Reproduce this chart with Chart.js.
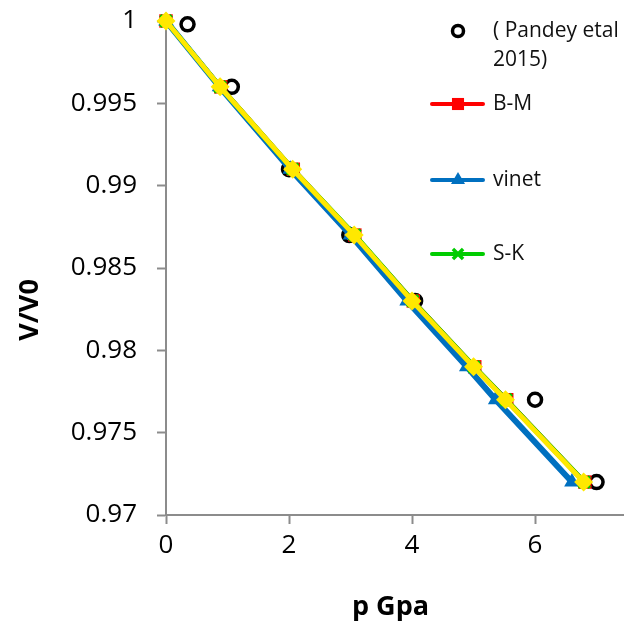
<!DOCTYPE html>
<html>
<head>
<meta charset="utf-8">
<script src="https://cdn.jsdelivr.net/npm/chart.js@4/dist/chart.umd.min.js"></script>
<style>
  html, body { margin: 0; padding: 0; background: #ffffff; }
  canvas { display: block; }
</style>
</head>
<body>
<canvas id="eos" width="640" height="627"></canvas>
<script>
// Relative volume V/V0 shared by the equation-of-state curves
const volumeRatio = [1.000, 0.996, 0.991, 0.987, 0.983, 0.979, 0.977, 0.972];

// Pressure (GPa) for each equation of state
const pressureBM    = [0, 0.89, 2.07, 3.07, 4.02, 5.02, 5.54, 6.81];
const pressureVinet = [0, 0.87, 2.02, 3.00, 3.92, 4.89, 5.36, 6.60];
const pressureSK    = [0, 0.88, 2.06, 3.07, 4.01, 5.01, 5.53, 6.80];
const pressureCalc  = [0, 0.88, 2.06, 3.06, 4.00, 5.00, 5.52, 6.79];

// Reference points (Pandey et al. 2015)
const pandeyPressure = [0.35, 1.07, 2.00, 2.98, 4.05, 6.00, 7.00];
const pandeyVolume   = [0.9998, 0.996, 0.991, 0.987, 0.983, 0.977, 0.972];

// Axis ticks
const xTicks = [0, 2, 4, 6];
const yTicks = [0.97, 0.975, 0.98, 0.985, 0.99, 0.995, 1];

const seriesLabels = ['( Pandey etal\n2015)', 'B-M', 'vinet', 'S-K', 'calc'];

const toPoints = (xs, ys) => xs.map((x, i) => ({ x: x, y: ys[i] }));

const FONT = "'Open Sans', 'DejaVu Sans', sans-serif";

const datasets = [
  {
    label: seriesLabels[0],
    data: toPoints(pandeyPressure, pandeyVolume),
    showLine: false,
    clip: false,
    pointStyle: 'circle',
    pointRadius: 6.5,
    pointBorderWidth: 3.5,
    pointBorderColor: '#000000',
    pointBackgroundColor: 'rgba(255,255,255,0)',
    order: 4
  },
  {
    label: seriesLabels[1],
    data: toPoints(pressureBM, volumeRatio),
    showLine: true,
    clip: false,
    borderColor: '#ff0000',
    borderWidth: 4,
    pointStyle: 'rect',
    pointRadius: 9.5,
    pointBorderWidth: 0,
    pointBackgroundColor: '#ff0000',
    order: 3
  },
  {
    label: seriesLabels[2],
    data: toPoints(pressureVinet, volumeRatio),
    showLine: true,
    clip: false,
    borderColor: '#0070c0',
    borderWidth: 6,
    pointStyle: 'triangle',
    pointRadius: 9,
    pointBorderWidth: 0,
    pointBackgroundColor: '#0070c0',
    order: 2
  },
  {
    label: seriesLabels[3],
    data: toPoints(pressureSK, volumeRatio),
    showLine: true,
    clip: false,
    borderColor: '#00cc00',
    borderWidth: 5,
    pointStyle: 'crossRot',
    pointRadius: 8,
    pointBorderWidth: 3.5,
    pointBorderColor: '#00cc00',
    pointBackgroundColor: '#00cc00',
    order: 1
  },
  {
    label: seriesLabels[4],
    data: toPoints(pressureCalc, volumeRatio),
    showLine: true,
    clip: false,
    borderColor: '#ffe800',
    borderWidth: 5,
    pointStyle: 'rectRot',
    pointRadius: 9.5,
    pointBorderWidth: 0,
    pointBackgroundColor: '#ffe800',
    order: 0
  }
];

// Legend entries drawn over the right side of the plot
const legendRows = [
  { index: 0, y: 31 },
  { index: 1, y: 104 },
  { index: 2, y: 180 },
  { index: 3, y: 254 }
];

function drawMarker(ctx, ds, x, y) {
  ctx.save();
  ctx.fillStyle = ds.pointBackgroundColor;
  ctx.strokeStyle = ds.pointBorderColor || ds.pointBackgroundColor;
  ctx.lineWidth = ds.pointBorderWidth;
  Chart.helpers.drawPoint(ctx, {
    pointStyle: ds.pointStyle,
    radius: ds.pointRadius,
    borderWidth: ds.pointBorderWidth,
    rotation: 0
  }, x, y);
  ctx.restore();
}

const overlayPlugin = {
  id: 'overlay',
  afterDraw(chart) {
    const ctx = chart.ctx;
    const area = chart.chartArea;
    ctx.save();

    // Legend
    const symX = 458, lineL = 432, lineR = 483, textX = 493;
    ctx.font = '21px ' + FONT;
    ctx.fillStyle = '#111111';
    ctx.textAlign = 'left';
    ctx.textBaseline = 'middle';
    legendRows.forEach(row => {
      const ds = chart.data.datasets[row.index];
      if (ds.showLine) {
        ctx.save();
        ctx.strokeStyle = ds.borderColor;
        ctx.lineWidth = 4;
        ctx.lineCap = 'round';
        ctx.beginPath();
        ctx.moveTo(lineL, row.y);
        ctx.lineTo(lineR, row.y);
        ctx.stroke();
        ctx.restore();
      }
      const legendDs = Object.assign({}, ds, {
        pointRadius: ds.pointStyle === 'circle' ? 5.5 : ds.pointRadius * 0.9
      });
      drawMarker(ctx, legendDs, symX, row.y);
      const lines = ds.label.split('\n');
      lines.forEach((t, i) => ctx.fillText(t, textX, row.y + i * 29));
    });

    // Axis titles
    ctx.font = 'bold 27px ' + FONT;
    ctx.fillStyle = '#000000';
    ctx.textAlign = 'center';
    ctx.textBaseline = 'middle';
    ctx.fillText('p Gpa', (area.left + area.right) / 2 - 4, 607);

    ctx.save();
    ctx.translate(30, 310);
    ctx.rotate(-Math.PI / 2);
    ctx.fillText('V/V0', 0, 0);
    ctx.restore();

    ctx.restore();
  }
};

const axisColor = '#8c8c8c';

new Chart(document.getElementById('eos'), {
  type: 'scatter',
  data: { datasets: datasets },
  options: {
    responsive: false,
    animation: false,
    devicePixelRatio: 1,
    layout: { padding: { top: 21, right: 17, left: 0, bottom: 0 } },
    plugins: {
      legend: { display: false },
      tooltip: { enabled: false }
    },
    elements: { line: { tension: 0 } },
    scales: {
      x: {
        type: 'linear',
        min: 0,
        max: 7.43,
        afterBuildTicks: s => { s.ticks = xTicks.map(v => ({ value: v })); },
        afterFit: s => { s.height = 112; s.paddingLeft = 0; s.paddingRight = 0; },
        grid: {
          drawOnChartArea: false,
          drawTicks: true,
          tickLength: 9,
          tickWidth: 2,
          tickColor: axisColor
        },
        border: { color: axisColor, width: 2 },
        ticks: {
          color: '#000000',
          padding: 6,
          font: { family: FONT, size: 26 },
          maxRotation: 0,
          callback: v => String(v)
        }
      },
      y: {
        type: 'linear',
        min: 0.97,
        max: 1,
        afterBuildTicks: s => { s.ticks = yTicks.map(v => ({ value: v })); },
        afterFit: s => { s.width = 166; s.paddingTop = 0; s.paddingBottom = 0; },
        grid: {
          drawOnChartArea: false,
          drawTicks: true,
          tickLength: 9,
          tickWidth: 2,
          tickColor: axisColor
        },
        border: { color: axisColor, width: 2 },
        ticks: {
          color: '#000000',
          padding: 20,
          font: { family: FONT, size: 26 },
          callback: v => String(Number(v.toFixed(3)))
        }
      }
    }
  },
  plugins: [overlayPlugin]
});
</script>
</body>
</html>
